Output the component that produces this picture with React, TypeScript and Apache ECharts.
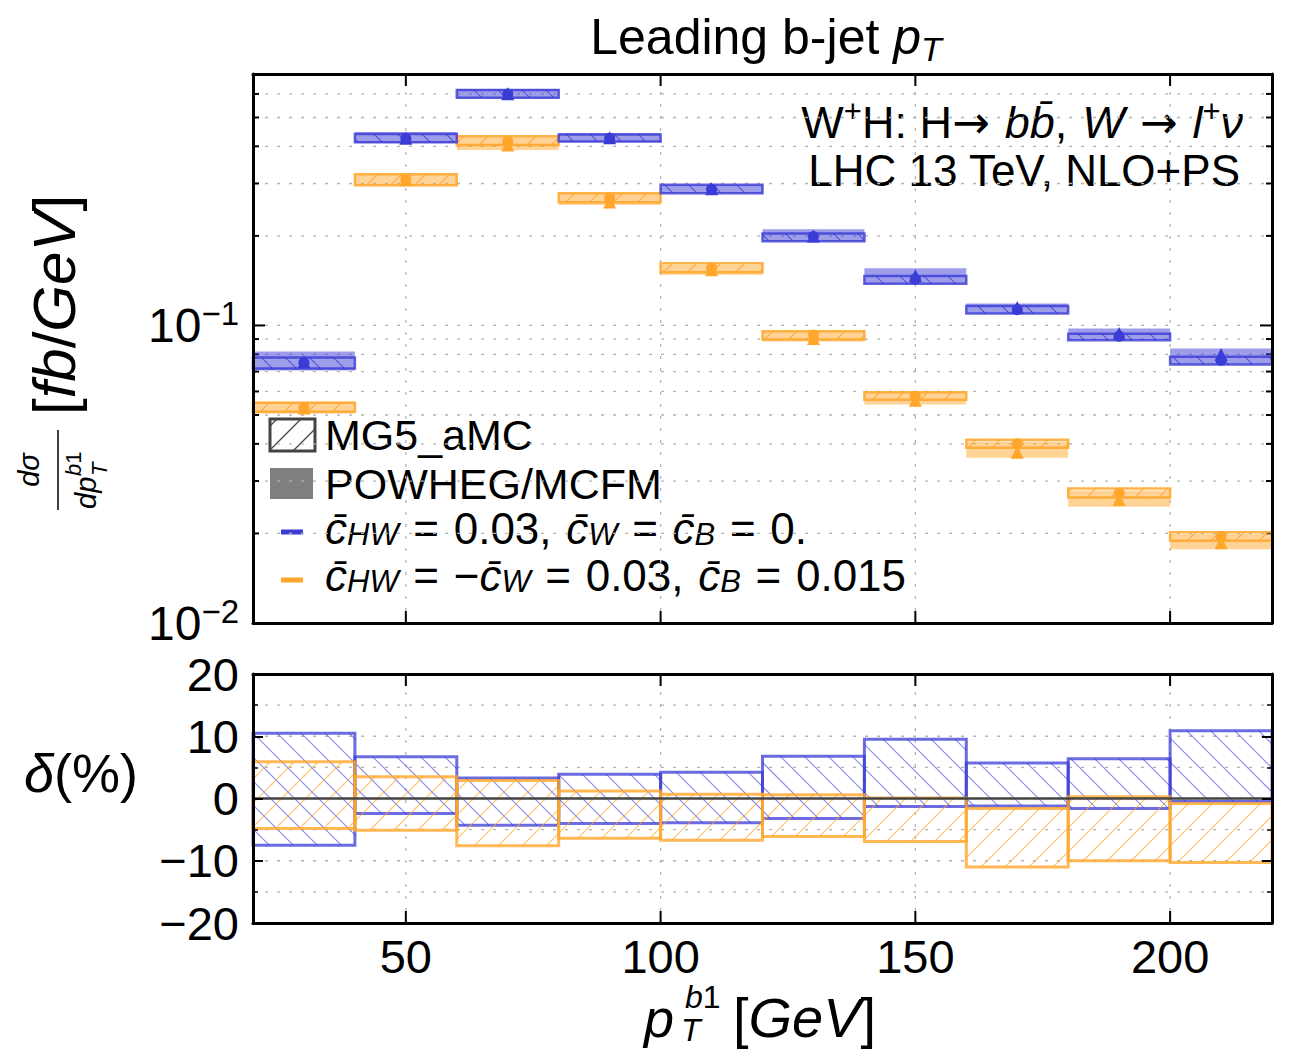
import React, { useEffect, useRef } from "react";
import * as echarts from "echarts";

const FONT = "'Liberation Sans', Arial, Helvetica, sans-serif";
const ARROW_FONT = "'DejaVu Sans', sans-serif";
const BLUE = "#3b3bd6";
const ORANGE = "#ffa62b";
const BLUE_FILL = "rgba(59,59,214,0.5)";
const ORANGE_FILL = "rgba(255,166,43,0.5)";
const BLUE_EDGE = "rgba(59,59,214,0.8)";
const ORANGE_EDGE = "rgba(255,166,43,0.85)";
const BLUE_HATCH = "rgba(59,59,214,0.75)";
const ORANGE_HATCH = "rgba(255,166,43,0.85)";
const SP = "\u2004";

// ---------------- data ----------------
const binEdges = [20, 40, 60, 80, 100, 120, 140, 160, 180, 200, 220];
const xTickValues = [50, 100, 150, 200];
const yTopGridValues = [0.02, 0.03, 0.04, 0.05, 0.06, 0.07, 0.08, 0.09, 0.1, 0.2, 0.3, 0.4, 0.5, 0.6];
const yBottomGridValues = [-15, -10, -5, 0, 5, 10, 15];

// c_HW = 0.03, c_W = c_B = 0  (blue)
const blueMgCentral = [0.0751, 0.425, 0.6, 0.426, 0.287, 0.199, 0.143, 0.113, 0.092, 0.0764];
const blueMgLow = [0.0716, 0.413, 0.583, 0.415, 0.278, 0.192, 0.138, 0.1097, 0.0892, 0.0739];
const blueMgHigh = [0.078, 0.44, 0.618, 0.438, 0.297, 0.2036, 0.1466, 0.1162, 0.0938, 0.0785];
const bluePwCentral = [0.0755, 0.426, 0.601, 0.427, 0.288, 0.2, 0.147, 0.1148, 0.094, 0.0799];
const bluePwLow = [0.0706, 0.41, 0.58, 0.413, 0.278, 0.192, 0.138, 0.1097, 0.0892, 0.0739];
const bluePwHigh = [0.0818, 0.4465, 0.623, 0.443, 0.297, 0.2105, 0.1556, 0.1186, 0.0977, 0.0837];

// c_HW = -c_W = 0.03, c_B = 0.015  (orange)
const orangeMgCentral = [0.0528, 0.31, 0.4155, 0.268, 0.156, 0.0928, 0.0578, 0.04, 0.0273, 0.0195];
const orangeMgLow = [0.0513, 0.296, 0.404, 0.2595, 0.1508, 0.0897, 0.0563, 0.0388, 0.0264, 0.0189];
const orangeMgHigh = [0.055, 0.322, 0.432, 0.278, 0.1617, 0.0957, 0.0596, 0.0413, 0.0283, 0.0202];
const orangePwCentral = [0.0528, 0.309, 0.404, 0.26, 0.154, 0.0904, 0.0561, 0.0375, 0.026, 0.0186];
const orangePwLow = [0.0506, 0.296, 0.389, 0.254, 0.148, 0.0883, 0.0542, 0.0359, 0.0246, 0.0177];
const orangePwHigh = [0.0554, 0.322, 0.43, 0.278, 0.16, 0.0955, 0.0596, 0.0407, 0.0279, 0.0199];

// relative deviation delta (%)
const blueDeltaHigh = [10.5, 6.7, 3.3, 3.9, 4.2, 6.8, 9.5, 5.7, 6.4, 10.9];
const blueDeltaLow = [-7.5, -2.4, -4.3, -4.0, -3.9, -3.2, -1.3, -1.2, -1.6, -0.5];
const orangeDeltaHigh = [5.9, 3.5, 2.9, 1.2, 0.7, 0.6, 0.1, -1.6, 0.3, -0.8];
const orangeDeltaLow = [-4.8, -5.1, -7.6, -6.4, -6.7, -6.1, -6.9, -11.0, -10.0, -10.3];

// ---------------- helpers ----------------
const X_MIN = 20;
const X_MAX = 220;
const TOP_Y_MIN = 0.01;
const TOP_Y_MAX = 0.7;
const BOT_Y_MIN = -20;
const BOT_Y_MAX = 20;

const binLo = binEdges.slice(0, -1);
const binHi = binEdges.slice(1);
const binCenter = binLo.map((l, i) => (l + binHi[i]) / 2);

const rows = (lo: number[], hi: number[]) => binLo.map((l, i) => [l, binHi[i], lo[i], hi[i]]);

const GRID_STYLE = { stroke: "#b3b3b3", lineWidth: 1.3, lineDash: [3, 9] };
const TICK_STYLE = { stroke: "#000", lineWidth: 2 };

function hatchLines(x0: number, y0: number, x1: number, y1: number, spacing: number, dir: "back" | "fwd", style: any) {
  const out: any[] = [];
  if (dir === "back") {
    const cMin = x0 - y1;
    const cMax = x1 - y0;
    for (let c = Math.ceil(cMin / spacing) * spacing; c <= cMax; c += spacing) {
      const xs = Math.max(x0, y0 + c);
      const xe = Math.min(x1, y1 + c);
      if (xe - xs > 0.5) out.push({ type: "line", silent: true, shape: { x1: xs, y1: xs - c, x2: xe, y2: xe - c }, style });
    }
  } else {
    const cMin = x0 + y0;
    const cMax = x1 + y1;
    for (let c = Math.ceil(cMin / spacing) * spacing; c <= cMax; c += spacing) {
      const xs = Math.max(x0, c - y1);
      const xe = Math.min(x1, c - y0);
      if (xe - xs > 0.5) out.push({ type: "line", silent: true, shape: { x1: xs, y1: c - xs, x2: xe, y2: c - xe }, style });
    }
  }
  return out;
}

const richMath = (size: number, small: number, lh = 1.15) => {
  const L = Math.round(size * lh);
  return {
    r: { fontSize: size, fontFamily: FONT, lineHeight: L, fill: "#000" },
    i: { fontSize: size, fontFamily: FONT, fontStyle: "italic", lineHeight: L, fill: "#000" },
    a: { fontSize: size, fontFamily: ARROW_FONT, lineHeight: L, fill: "#000" },
    sup: { fontSize: small, fontFamily: FONT, lineHeight: small, verticalAlign: "top", fill: "#000" },
    sub: { fontSize: small, fontFamily: FONT, fontStyle: "italic", lineHeight: Math.round(small * 0.6), verticalAlign: "bottom", fill: "#000" },
  };
};

function txt(x: number, y: number, text: string, size: number, small: number, align = "left", lh = 1.15) {
  return {
    type: "text",
    x,
    y,
    silent: true,
    style: {
      text,
      rich: richMath(size, small, lh),
      fontSize: size,
      fontFamily: FONT,
      lineHeight: Math.round(size * lh),
      fill: "#000",
      align,
      textAlign: align,
      verticalAlign: "middle",
      textVerticalAlign: "middle",
    },
  };
}

function vGridSeries(xi: number, yi: number, yMin: number, yMax: number) {
  return {
    type: "custom",
    xAxisIndex: xi,
    yAxisIndex: yi,
    z: 1,
    silent: true,
    data: xTickValues.map((v) => [v]),
    renderItem: (_p: any, api: any) => {
      const v = api.value(0);
      const pb = api.coord([v, yMin]);
      const pt = api.coord([v, yMax]);
      return {
        type: "group",
        children: [
          { type: "line", shape: { x1: pb[0], y1: pb[1], x2: pt[0], y2: pt[1] }, style: GRID_STYLE },
          { type: "line", shape: { x1: pb[0], y1: pb[1], x2: pb[0], y2: pb[1] - 12 }, style: TICK_STYLE },
          { type: "line", shape: { x1: pt[0], y1: pt[1], x2: pt[0], y2: pt[1] + 12 }, style: TICK_STYLE },
        ],
      };
    },
  };
}

function hGridSeries(xi: number, yi: number, values: number[], withTicks: boolean) {
  return {
    type: "custom",
    xAxisIndex: xi,
    yAxisIndex: yi,
    z: 1,
    silent: true,
    data: values.map((v) => [v]),
    renderItem: (_p: any, api: any) => {
      const v = api.value(0);
      const pl = api.coord([X_MIN, v]);
      const pr = api.coord([X_MAX, v]);
      const children: any[] = [{ type: "line", shape: { x1: pl[0], y1: pl[1], x2: pr[0], y2: pr[1] }, style: GRID_STYLE }];
      if (withTicks) {
        const lg = Math.log10(v);
        const len = Math.abs(lg - Math.round(lg)) < 1e-6 ? 12 : 6;
        children.push({ type: "line", shape: { x1: pl[0], y1: pl[1], x2: pl[0] + len, y2: pl[1] }, style: TICK_STYLE });
        children.push({ type: "line", shape: { x1: pr[0], y1: pr[1], x2: pr[0] - len, y2: pr[1] }, style: TICK_STYLE });
      }
      return { type: "group", children };
    },
  };
}

function fillSeries(xi: number, yi: number, lo: number[], hi: number[], color: string) {
  return {
    type: "custom",
    xAxisIndex: xi,
    yAxisIndex: yi,
    z: 2,
    silent: true,
    encode: { x: [0, 1], y: [2, 3] },
    data: rows(lo, hi),
    renderItem: (_p: any, api: any) => {
      const a = api.coord([api.value(0), api.value(3)]);
      const b = api.coord([api.value(1), api.value(2)]);
      return { type: "rect", shape: { x: a[0], y: a[1], width: b[0] - a[0], height: b[1] - a[1] }, style: { fill: color } };
    },
  };
}

function hatchSeries(xi: number, yi: number, lo: number[], hi: number[], edge: string, hatch: string, dir: "back" | "fwd", edgeWidth: number, z: number) {
  return {
    type: "custom",
    xAxisIndex: xi,
    yAxisIndex: yi,
    z,
    silent: true,
    encode: { x: [0, 1], y: [2, 3] },
    data: rows(lo, hi),
    renderItem: (_p: any, api: any) => {
      const a = api.coord([api.value(0), api.value(3)]);
      const b = api.coord([api.value(1), api.value(2)]);
      const x0 = a[0], y0 = Math.min(a[1], b[1]), x1 = b[0], y1 = Math.max(a[1], b[1]);
      return {
        type: "group",
        children: [
          ...hatchLines(x0, y0, x1, y1, 24, dir, { stroke: hatch, lineWidth: 1.1 }),
          { type: "rect", shape: { x: x0, y: y0, width: x1 - x0, height: y1 - y0 }, style: { fill: "none", stroke: edge, lineWidth: edgeWidth } },
        ],
      };
    },
  };
}

function scatterSeries(values: number[], symbol: string, size: number, color: string) {
  return {
    type: "scatter",
    xAxisIndex: 0,
    yAxisIndex: 0,
    z: 5,
    silent: true,
    symbol,
    symbolSize: size,
    itemStyle: { color, opacity: 1 },
    data: binCenter.map((c, i) => [c, values[i]]),
  };
}

function buildOption(): any {
  const axisLine = { show: true, onZero: false, lineStyle: { color: "#000", width: 3 } };
  const xBase = (gridIndex: number, position: string, labels: boolean) => ({
    type: "value",
    gridIndex,
    position,
    min: X_MIN,
    max: X_MAX,
    interval: 10,
    z: 10,
    axisLine,
    axisTick: { show: false },
    splitLine: { show: false },
    axisLabel: labels
      ? {
          show: true,
          formatter: (v: number) => (xTickValues.includes(v) ? String(v) : ""),
          fontSize: 47,
          fontFamily: FONT,
          color: "#000",
          margin: 10,
        }
      : { show: false },
  });
  const logBase = (position: string, labels: boolean) => ({
    type: "log",
    logBase: 10,
    gridIndex: 0,
    position,
    min: TOP_Y_MIN,
    max: TOP_Y_MAX,
    z: 10,
    axisLine,
    axisTick: { show: false },
    splitLine: { show: false },
    axisLabel: labels
      ? {
          show: true,
          margin: 14,
          formatter: (v: number) => {
            const l = Math.log10(v);
            const r = Math.round(l);
            if (Math.abs(l - r) > 1e-6) return "";
            return `{b|10}{e|−${-r}}`;
          },
          rich: {
            b: { fontSize: 48, fontFamily: FONT, color: "#000", lineHeight: 56 },
            e: { fontSize: 33, fontFamily: FONT, color: "#000", lineHeight: 33, verticalAlign: "top" },
          },
        }
      : { show: false },
  });
  const linBase = (position: string, labels: boolean) => ({
    type: "value",
    gridIndex: 1,
    position,
    min: BOT_Y_MIN,
    max: BOT_Y_MAX,
    interval: 10,
    z: 10,
    axisLine,
    axisTick: { show: true, inside: true, length: 10, lineStyle: { color: "#000", width: 2 } },
    minorTick: { show: true, splitNumber: 2, length: 5, lineStyle: { color: "#000", width: 1.5 } },
    splitLine: { show: false },
    axisLabel: labels
      ? {
          show: true,
          margin: 14,
          fontSize: 47,
          fontFamily: FONT,
          color: "#000",
          formatter: (v: number) => (v < 0 ? "−" + Math.abs(v) : String(v)),
        }
      : { show: false },
  });

  const legendIcon = { x0: 270, y0: 419, x1: 315, y1: 451 };
  const EQ = `{r|${SP}=${SP}}`;

  const graphics: any[] = [
    // title
    txt(766, 37, "{r|Leading b-jet }{i|p}{sub|T}", 50, 34, "center"),
    // annotation
    txt(
      1243,
      122,
      `{r|W}{sup|+}{r|H: H}{a|→}{r|${SP}}{i|bb\u0304}{r|,${SP}}{i|W}{r|${SP}}{a|→}{r|${SP}}{i|l}{sup|+}{i|ν}`,
      45,
      31,
      "right"
    ),
    txt(1240, 170, "{r|LHC 13 TeV, NLO+PS}", 44, 29, "right"),
    // legend
    {
      type: "group",
      silent: true,
      children: [
        ...hatchLines(legendIcon.x0, legendIcon.y0, legendIcon.x1, legendIcon.y1, 24, "fwd", { stroke: "#444", lineWidth: 1.3 }),
        {
          type: "rect",
          shape: { x: legendIcon.x0, y: legendIcon.y0, width: legendIcon.x1 - legendIcon.x0, height: legendIcon.y1 - legendIcon.y0 },
          style: { fill: "none", stroke: "#444", lineWidth: 3 },
        },
      ],
    },
    { type: "rect", silent: true, shape: { x: 270, y: 468, width: 43, height: 31 }, style: { fill: "#7f7f7f" } },
    { type: "line", silent: true, shape: { x1: 281, y1: 532, x2: 303, y2: 532 }, style: { stroke: BLUE, lineWidth: 5 } },
    { type: "line", silent: true, shape: { x1: 281, y1: 580, x2: 303, y2: 580 }, style: { stroke: ORANGE, lineWidth: 5 } },
    txt(325, 435, "{r|MG5_aMC}", 43, 30, "left", 1.0),
    txt(325, 484, "{r|POWHEG/MCFM}", 43, 30, "left", 1.0),
    txt(325, 528, `{i|c\u0304}{sub|HW}${EQ}{r|0.03,${SP}}{i|c\u0304}{sub|W}${EQ}{i|c\u0304}{sub|B}${EQ}{r|0.}`, 44, 31, "left", 1.0),
    txt(325, 575, `{i|c\u0304}{sub|HW}${EQ}{r|−}{i|c\u0304}{sub|W}${EQ}{r|0.03,${SP}}{i|c\u0304}{sub|B}${EQ}{r|0.015}`, 44, 31, "left", 1.0),
    // lower y label
    txt(24, 773, "{i|δ}{r|(%)}", 54, 36),
    // x label
    txt(644, 1018, "{i|p}", 54, 34, "left", 1.0),
    txt(685, 997, "{i|b}{r|1}", 32, 22, "left", 0.92),
    txt(681, 1030, "{i|T}", 32, 22, "left", 0.92),
    txt(733, 1017, "{r|[}{i|GeV}{r|]}", 56, 34, "left", 1.0),
    // y label (rotated)
    {
      type: "group",
      x: 58,
      y: 515,
      rotation: Math.PI / 2,
      silent: true,
      children: [
        { type: "line", shape: { x1: 5, y1: 0, x2: 85, y2: 0 }, style: { stroke: "#000", lineWidth: 1.5 } },
        txt(45, -29, "{i|dσ}", 29, 20, "center", 1.0),
        txt(6, 28, "{i|dp}", 29, 20, "left", 1.0),
        txt(39, 15, "{i|b}{r|1}", 22, 16, "left", 0.92),
        txt(39, 41, "{i|T}", 22, 16, "left", 0.92),
        txt(100, -4, "{r|[}{i|fb}{r|/}{i|GeV}{r|]}", 60, 36, "left", 1.0),
      ],
    },
  ];

  return {
    animation: false,
    backgroundColor: "#fff",
    grid: [
      { left: 253, top: 74, width: 1019, height: 549 },
      { left: 253, top: 674, width: 1019, height: 249 },
    ],
    xAxis: [xBase(0, "bottom", false), xBase(0, "top", false), xBase(1, "bottom", true), xBase(1, "top", false)],
    yAxis: [logBase("left", true), logBase("right", false), linBase("left", true), linBase("right", false)],
    graphic: { elements: graphics },
    series: [
      vGridSeries(0, 0, TOP_Y_MIN, TOP_Y_MAX),
      hGridSeries(0, 0, yTopGridValues, true),
      vGridSeries(2, 2, BOT_Y_MIN, BOT_Y_MAX),
      hGridSeries(2, 2, yBottomGridValues, false),
      // upper panel: POWHEG/MCFM filled bands
      fillSeries(0, 0, orangePwLow, orangePwHigh, ORANGE_FILL),
      fillSeries(0, 0, bluePwLow, bluePwHigh, BLUE_FILL),
      // upper panel: MG5_aMC hatched bands
      hatchSeries(0, 0, orangeMgLow, orangeMgHigh, ORANGE_EDGE, ORANGE_HATCH, "fwd", 2.5, 3),
      hatchSeries(0, 0, blueMgLow, blueMgHigh, BLUE_EDGE, BLUE_HATCH, "back", 2.5, 3),
      // markers
      scatterSeries(orangePwCentral, "triangle", 13, ORANGE),
      scatterSeries(bluePwCentral, "triangle", 13, BLUE),
      scatterSeries(orangeMgCentral, "circle", 11, ORANGE),
      scatterSeries(blueMgCentral, "circle", 11, BLUE),
      // lower panel
      hatchSeries(2, 2, blueDeltaLow, blueDeltaHigh, "rgba(59,59,214,0.75)", "rgba(59,59,214,0.6)", "back", 3, 3),
      hatchSeries(2, 2, orangeDeltaLow, orangeDeltaHigh, "rgba(255,166,43,0.8)", "rgba(255,166,43,0.7)", "fwd", 3, 3),
      {
        type: "custom",
        xAxisIndex: 2,
        yAxisIndex: 2,
        z: 4,
        silent: true,
        data: [[0]],
        renderItem: (_p: any, api: any) => {
          const pl = api.coord([X_MIN, api.value(0)]);
          const pr = api.coord([X_MAX, api.value(0)]);
          return { type: "line", shape: { x1: pl[0], y1: pl[1], x2: pr[0], y2: pr[1] }, style: { stroke: "#444", lineWidth: 2.5 } };
        },
      },
    ],
  };
}

export default function App() {
  const ref = useRef<HTMLDivElement>(null);
  useEffect(() => {
    if (!ref.current) return;
    const chart = echarts.init(ref.current, null, { renderer: "svg" });
    chart.setOption(buildOption());
    return () => chart.dispose();
  }, []);
  return (
    <div
      ref={ref}
      style={{ position: "absolute", left: 0, top: 0, width: 1290, height: 1052, background: "#fff" }}
    />
  );
}
